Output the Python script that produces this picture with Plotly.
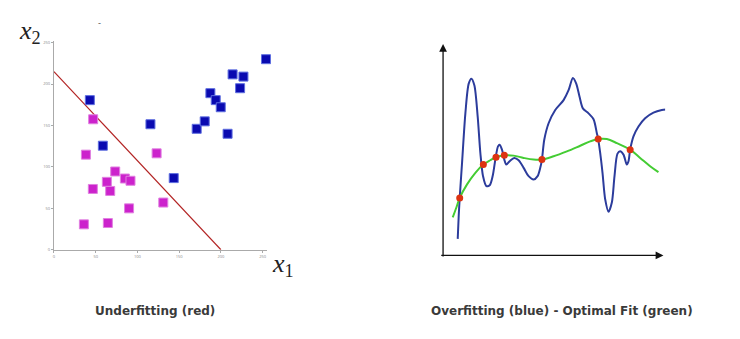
import plotly.graph_objects as go

W, H = 740, 339

# ---------- Left panel data ----------
blue_x = [43, 115.6, 58.6, 171, 180.6, 187.4, 193.8, 199.8, 208, 214, 227, 223, 254, 143.5]
blue_y = [180.6, 151.5, 125.6, 146, 155, 189, 180.6, 172, 140, 211.7, 209, 195, 230, 86.5]
mag_x = [47, 38.3, 123, 73.4, 63.4, 85, 91.7, 46.6, 67.4, 131, 90, 35.9, 64.6, 271]
mag_y = [157.5, 114.8, 116.4, 94.5, 82, 86, 83.3, 73.4, 71, 57, 50, 30.7, 32.3, 73.8]
line_x = [0, 200]
line_y = [215, 0]
tick_vals = [0, 50, 100, 150, 200, 250]
tick_text = ["0", "50", "100", "150", "200", "250"]

# ---------- Right panel data ----------
over_x = [172, 175, 178, 185, 195, 205, 213, 222, 232, 240, 248, 258, 268, 277, 285, 293, 298,
          305, 312, 318, 328, 342, 355, 370, 385, 400, 412, 420, 425, 432, 445, 465, 490, 505,
          518, 528, 538, 548, 565, 580, 590, 594, 600, 607, 615, 625, 635, 643, 652, 660, 670,
          680, 685, 690, 700, 715, 735, 760, 785, 805]
over_y = [50, 120, 174, 280, 430, 520, 535, 515, 420, 310, 240, 210, 212, 240, 290, 330, 335,
          320, 290, 275, 285, 295, 288, 265, 240, 230, 240, 265, 290, 350, 400, 440, 470, 500,
          537, 520, 480, 445, 430, 412, 370, 352, 310, 250, 170, 132, 160, 240, 308, 315, 305,
          275, 285, 320, 360, 390, 415, 432, 440, 442]
opt_x = [157, 168, 178, 200, 225, 249, 270, 287, 312, 340, 370, 400, 425, 460, 500, 540, 570,
         594, 620, 650, 690, 720, 750, 775]
opt_y = [115, 145, 174, 215, 250, 275, 288, 297, 303, 302, 295, 290, 290, 300, 315, 332, 345,
         352, 352, 340, 320, 295, 270, 252]
pts_x = [178, 249, 287, 312, 425, 594, 690]
pts_y = [174, 275, 297, 303, 290, 352, 320]

titles = ["Underfitting (red)", "Overfitting (blue) - Optimal Fit (green)"]


def px(x):
    return x / W


def py(y):
    return 1 - y / H


fig = go.Figure()

# left panel
fig.add_trace(go.Scatter(x=line_x, y=line_y, mode="lines",
                         line=dict(color="#b22222", width=1.2),
                         xaxis="x", yaxis="y", showlegend=False, hoverinfo="skip"))
fig.add_trace(go.Scatter(x=blue_x, y=blue_y, mode="markers",
                         marker=dict(symbol="square", size=9, color="#0a0ab0",
                                     line=dict(color="#5f6fe0", width=1)),
                         xaxis="x", yaxis="y", cliponaxis=False, showlegend=False))
fig.add_trace(go.Scatter(x=mag_x, y=mag_y, mode="markers",
                         marker=dict(symbol="square", size=9, color="#cc22cc",
                                     line=dict(color="#e080e0", width=1)),
                         xaxis="x", yaxis="y", cliponaxis=False, showlegend=False))

# right panel
fig.add_trace(go.Scatter(x=over_x, y=over_y, mode="lines",
                         line=dict(color="#2c3c9c", width=2, shape="spline", smoothing=0.8),
                         xaxis="x2", yaxis="y2", showlegend=False))
fig.add_trace(go.Scatter(x=opt_x, y=opt_y, mode="lines",
                         line=dict(color="#44cc33", width=2, shape="spline", smoothing=1),
                         xaxis="x2", yaxis="y2", showlegend=False))
fig.add_trace(go.Scatter(x=pts_x, y=pts_y, mode="markers",
                         marker=dict(color="#dd3311", size=7),
                         xaxis="x2", yaxis="y2", showlegend=False))

axis_common = dict(showgrid=False, zeroline=False, showline=True, linecolor="#aaaaaa",
                   linewidth=1, ticks="outside", ticklen=2, tickcolor="#aaaaaa",
                   tickvals=tick_vals, ticktext=tick_text,
                   tickfont=dict(size=4, color="#888888"))

title_font = dict(family="DejaVu Sans", size=12, color="#3a3a3a", weight="bold")
math_font = dict(family="Liberation Serif", size=26, color="#222222")

annotations = [
    dict(text=titles[0], x=px(154), y=py(313), xref="paper", yref="paper",
         xanchor="center", yanchor="middle", showarrow=False, font=title_font),
    dict(text=titles[1], x=px(562), y=py(313), xref="paper", yref="paper",
         xanchor="center", yanchor="middle", showarrow=False, font=title_font),
    dict(text="<i>x</i><sub>2</sub>", x=px(29), y=py(31), xref="paper", yref="paper",
         xanchor="center", yanchor="middle", showarrow=False, font=math_font),
    dict(text="<i>x</i><sub>1</sub>", x=px(282), y=py(266), xref="paper", yref="paper",
         xanchor="center", yanchor="middle", showarrow=False, font=math_font),
    dict(text="-", x=px(99), y=py(22), xref="paper", yref="paper",
         xanchor="center", yanchor="middle", showarrow=False,
         font=dict(family="Liberation Sans", size=9, color="#555555")),
    # arrow axes for right panel
    dict(x=128, y=640, ax=128, ay=-8, xref="x2", yref="y2", axref="x2", ayref="y2",
         text="", showarrow=True, arrowhead=2, arrowsize=1.2, arrowwidth=1.3, arrowcolor="#111111"),
    dict(x=790, y=0, ax=118, ay=0, xref="x2", yref="y2", axref="x2", ayref="y2",
         text="", showarrow=True, arrowhead=2, arrowsize=1.2, arrowwidth=1.3, arrowcolor="#111111"),
]

fig.update_layout(
    width=W, height=H, margin=dict(l=0, r=0, t=0, b=0),
    paper_bgcolor="white", plot_bgcolor="white",
    xaxis=dict(domain=[px(53), px(266.5)], range=[0, (266.5 - 53) / 0.836], anchor="y",
               **axis_common),
    yaxis=dict(domain=[py(251), py(40)], range=[0, (251 - 40) / 0.836], anchor="x",
               **axis_common),
    xaxis2=dict(domain=[px(440), px(665)], range=[120, 795], anchor="y2", visible=False),
    yaxis2=dict(domain=[py(260), py(42)], range=[-10, 644], anchor="x2", visible=False),
    annotations=annotations,
)

fig.write_html("out.html")
